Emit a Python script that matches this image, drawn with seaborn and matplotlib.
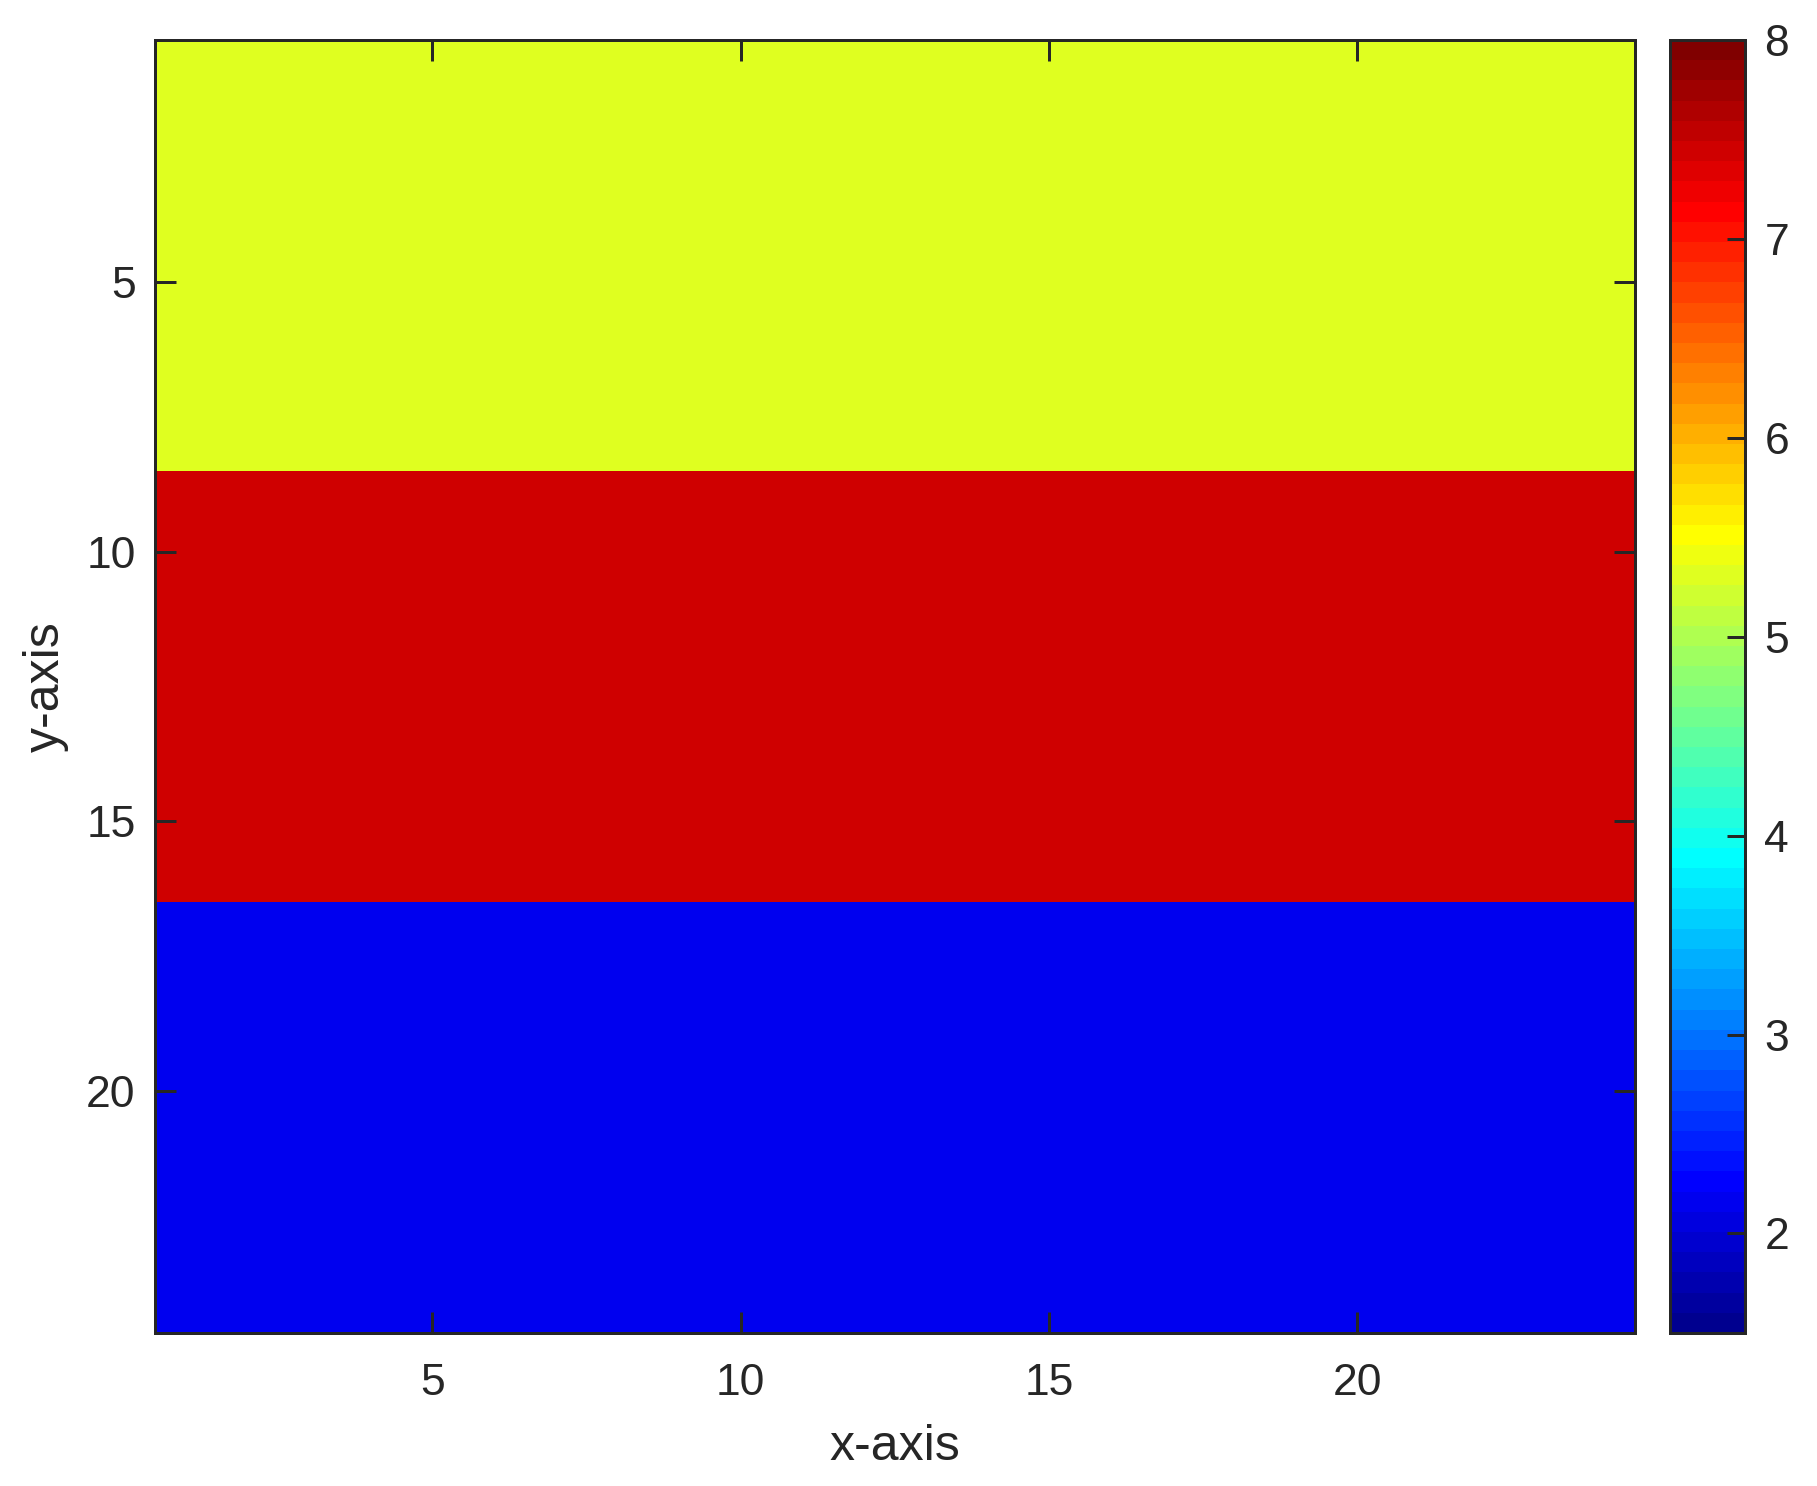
import numpy as np
import pandas as pd
import seaborn as sns
import matplotlib.pyplot as plt
from matplotlib.colors import ListedColormap

# data: three horizontal bands of a 24x24 grid
band_values = [5.3, 7.45, 2.15]
band_rows = [8, 8, 8]
n_cols = 24
x_ticks = [5, 10, 15, 20]
y_ticks = [5, 10, 15, 20]
cbar_ticks = [2, 3, 4, 5, 6, 7, 8]
clim = (1.5, 8)

TEXT = "#262626"


def matlab_jet(n=64):
    m = int(np.ceil(n / 4))
    u = np.concatenate([np.arange(1, m + 1) / m, np.ones(m - 1), np.arange(m, 0, -1) / m])
    g = int(np.ceil(m / 2)) - (1 if n % 4 == 1 else 0) + np.arange(1, len(u) + 1)
    r, b = g + m, g - m
    cmap = np.zeros((n, 3))
    for idx, ch in ((r, 0), (g, 1), (b, 2)):
        keep = (idx >= 1) & (idx <= n)
        cmap[idx[keep] - 1, ch] = u[keep]
    return ListedColormap(cmap)


grid = np.repeat(np.array(band_values), band_rows)[:, None] * np.ones((1, n_cols))
df = pd.DataFrame(grid, index=range(1, grid.shape[0] + 1), columns=range(1, n_cols + 1))

sns.set_style("white")
plt.rcParams["font.family"] = ["Liberation Sans", "DejaVu Sans"]

fig = plt.figure(figsize=(18.17, 14.86), dpi=100)
ax = fig.add_axes([0.0853, 0.1030, 0.8145, 0.8701])
cax = fig.add_axes([0.9191, 0.1030, 0.0413, 0.8701])

sns.heatmap(df, ax=ax, cbar_ax=cax, cmap=matlab_jet(64), vmin=clim[0], vmax=clim[1],
            xticklabels=False, yticklabels=False)

# ticks must sit above the mesh
ax.set_axisbelow(False)
cax.set_axisbelow(False)

lw = 2.16
ax.set_xticks([t - 0.5 for t in x_ticks])
ax.set_xticklabels([str(t) for t in x_ticks], rotation=0)
ax.set_yticks([t - 0.5 for t in y_ticks])
ax.set_yticklabels([str(t) for t in y_ticks], rotation=0)
ax.tick_params(axis="x", direction="in", length=15, width=lw, top=True, bottom=True,
               labelsize=32, colors=TEXT, pad=22)
ax.tick_params(axis="y", direction="in", length=15, width=lw, left=True, right=True,
               labelsize=32, colors=TEXT, pad=14)
for s in ax.spines.values():
    s.set_visible(True)
    s.set_linewidth(lw)
    s.set_color(TEXT)
ax.set_xlabel("x-axis", fontsize=36, color=TEXT, labelpad=14)
ax.set_ylabel("y-axis", fontsize=36, color=TEXT, labelpad=12)

cbar = ax.collections[0].colorbar
cbar.set_ticks(cbar_ticks)
cbar.set_ticklabels([str(t) for t in cbar_ticks])
cax.tick_params(direction="in", length=13, width=lw, right=True, labelsize=32, colors=TEXT, pad=14)
cbar.outline.set_visible(True)
cbar.outline.set_linewidth(lw)
cbar.outline.set_edgecolor(TEXT)

fig.savefig("out.png", dpi=100)
